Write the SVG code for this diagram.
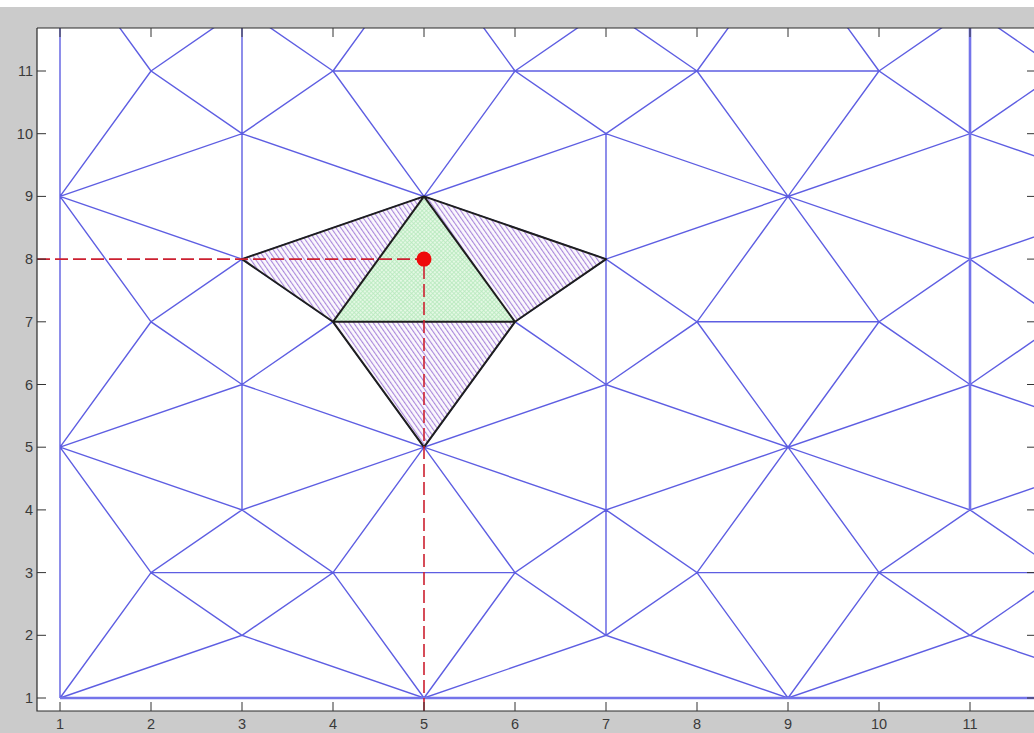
<svg xmlns="http://www.w3.org/2000/svg" width="1034" height="733" viewBox="0 0 1034 733">
  <defs>
    <style>
      .mesh { fill: none; stroke: #5e5ee2; stroke-width: 1.4; }
      .meshthick { fill: none; stroke: #7474ea; stroke-width: 2.6; }
      .edge { fill: none; stroke: #1e1e1e; stroke-width: 2; stroke-linejoin: round; }
      .tick { stroke: #333; stroke-width: 1; }
      .frame { fill: none; stroke: #2a2a2a; stroke-width: 1.2; }
      .lbl { font-family: "Liberation Sans", Arial, sans-serif; font-size: 14.5px; fill: #3a3a3a; }
      .dash { fill: none; stroke: #cc2030; stroke-width: 1.6; stroke-dasharray: 13 5; }
    </style>
    <clipPath id="plotClip">
      <rect x="37" y="28" width="1000" height="683"/>
    </clipPath>
    <pattern id="hatchPurple" patternUnits="userSpaceOnUse" width="4" height="4" patternTransform="rotate(-35)">
      <rect width="4" height="4" fill="#fbf8fd"/>
      <line x1="0.6" y1="0" x2="0.6" y2="4" stroke="#a27cd8" stroke-width="1"/>
    </pattern>
    <pattern id="hatchGreen" patternUnits="userSpaceOnUse" width="3" height="3" patternTransform="rotate(45)">
      <rect width="3" height="3" fill="#e4f8e4"/>
      <line x1="0" y1="0.5" x2="3" y2="0.5" stroke="#b8e8be" stroke-width="0.8"/>
      <line x1="0.5" y1="0" x2="0.5" y2="3" stroke="#b8e8be" stroke-width="0.8"/>
    </pattern>
  </defs>

  <!-- figure background -->
  <g id="background">
    <rect x="0" y="0" width="1034" height="733" fill="#cbcbcb"/>
    <rect x="0" y="0" width="1034" height="7" fill="#ffffff"/>
    <rect x="37" y="28" width="1000" height="683" fill="#ffffff"/>
  </g>

  <!-- triangular mesh -->
  <g id="mesh" clip-path="url(#plotClip)">
    <path class="mesh" d="
      M60,196.4 L242,133.7 L424,196.4 L606,133.7 L788,196.4 L970,133.7 L1152,196.4
      M60,196.4 L151,71 L242,133.7 L333,71 L424,196.4 L515,71 L606,133.7 L697,71 L788,196.4 L879,71 L970,133.7 L1061,71 L1152,196.4
      M151,71 L242,8.3 L333,71 M515,71 L606,8.3 L697,71 M879,71 L970,8.3 L1061,71
      M60,-54.4 L151,71 M333,71 L424,-54.4 L515,71 M697,71 L788,-54.4 L879,71 M1061,71 L1152,-54.4
      M60,196.4 L242,259.1 L424,196.4 L606,259.1 L788,196.4 L970,259.1 L1152,196.4
      M60,196.4 L151,321.8 L242,259.1 L333,321.8 L424,196.4 L515,321.8 L606,259.1 L697,321.8 L788,196.4 L879,321.8 L970,259.1 L1061,321.8 L1152,196.4
      M60,447.2 L151,321.8 L242,384.5 L333,321.8 L424,447.2 L515,321.8 L606,384.5 L697,321.8 L788,447.2 L879,321.8 L970,384.5 L1061,321.8 L1152,447.2
      M60,447.2 L242,384.5 L424,447.2 L606,384.5 L788,447.2 L970,384.5 L1152,447.2
      M60,447.2 L242,509.9 L424,447.2 L606,509.9 L788,447.2 L970,509.9 L1152,447.2
      M60,447.2 L151,572.6 L242,509.9 L333,572.6 L424,447.2 L515,572.6 L606,509.9 L697,572.6 L788,447.2 L879,572.6 L970,509.9 L1061,572.6 L1152,447.2
      M60,698 L151,572.6 L242,635.3 L333,572.6 L424,698 L515,572.6 L606,635.3 L697,572.6 L788,698 L879,572.6 L970,635.3 L1061,572.6 L1152,698
      M60,698 L242,635.3 L424,698 L606,635.3 L788,698 L970,635.3 L1152,698
      M60,698 L60,-54.4
      M242,509.9 L242,8.3
      M606,635.3 L606,133.7
      M151,572.6 L515,572.6
      M697,572.6 L1152,572.6
      M697,321.8 L879,321.8
      M333,71 L879,71
    "/>
    <path class="meshthick" d="M60,698 L1152,698 M970,509.9 L970,8.3"/>
  </g>

  <!-- highlighted triangles -->
  <g id="tri-left">
    <polygon points="242,259.1 424,196.4 333,321.8" fill="url(#hatchPurple)"/>
  </g>
  <g id="tri-right">
    <polygon points="424,196.4 606,259.1 515,321.8" fill="url(#hatchPurple)"/>
  </g>
  <g id="tri-bottom">
    <polygon points="333,321.8 515,321.8 424,447.2" fill="url(#hatchPurple)"/>
  </g>
  <g id="tri-center">
    <polygon points="424,196.4 333,321.8 515,321.8" fill="url(#hatchGreen)"/>
  </g>
  <g id="tri-edges">
    <path class="edge" d="M242,259.1 L424,196.4 L606,259.1 L515,321.8 L424,447.2 L333,321.8 Z M333,321.8 L515,321.8 M333,321.8 L424,196.4 L515,321.8"/>
  </g>

  <!-- query point with projections -->
  <g id="query-point">
    <path class="dash" d="M37,259.1 L418,259.1"/>
    <path class="dash" d="M424,266 L424,711"/>
    <circle cx="424" cy="259.1" r="7.5" fill="#ee0a0a"/>
  </g>

  <!-- axes -->
  <g id="axes">
    <path class="frame" d="M37,28 L1040,28 M37,28 L37,711 L1040,711"/>
    <path class="tick" d="
      M37,698 L46,698 M37,635.3 L46,635.3 M37,572.6 L46,572.6 M37,509.9 L46,509.9 M37,447.2 L46,447.2 M37,384.5 L46,384.5
      M37,321.8 L46,321.8 M37,259.1 L46,259.1 M37,196.4 L46,196.4 M37,133.7 L46,133.7 M37,71 L46,71
      M1027,698 L1034,698 M1027,635.3 L1034,635.3 M1027,572.6 L1034,572.6 M1027,509.9 L1034,509.9 M1027,447.2 L1034,447.2 M1027,384.5 L1034,384.5
      M1027,321.8 L1034,321.8 M1027,259.1 L1034,259.1 M1027,196.4 L1034,196.4 M1027,133.7 L1034,133.7 M1027,71 L1034,71
      M60,711 L60,702 M151,711 L151,702 M242,711 L242,702 M333,711 L333,702 M424,711 L424,702 M515,711 L515,702
      M606,711 L606,702 M697,711 L697,702 M788,711 L788,702 M879,711 L879,702 M970,711 L970,702
      M60,28 L60,37 M151,28 L151,37 M242,28 L242,37 M333,28 L333,37 M424,28 L424,37 M515,28 L515,37
      M606,28 L606,37 M697,28 L697,37 M788,28 L788,37 M879,28 L879,37 M970,28 L970,37
    "/>
  </g>

  <g id="y-labels" class="lbl" text-anchor="end">
    <text x="33" y="703">1</text>
    <text x="33" y="640.3">2</text>
    <text x="33" y="577.6">3</text>
    <text x="33" y="514.9">4</text>
    <text x="33" y="452.2">5</text>
    <text x="33" y="389.5">6</text>
    <text x="33" y="326.8">7</text>
    <text x="33" y="264.1">8</text>
    <text x="33" y="201.4">9</text>
    <text x="33" y="138.7">10</text>
    <text x="33" y="76">11</text>
  </g>

  <g id="x-labels" class="lbl" text-anchor="middle">
    <text x="60" y="729">1</text>
    <text x="151" y="729">2</text>
    <text x="242" y="729">3</text>
    <text x="333" y="729">4</text>
    <text x="424" y="729">5</text>
    <text x="515" y="729">6</text>
    <text x="606" y="729">7</text>
    <text x="697" y="729">8</text>
    <text x="788" y="729">9</text>
    <text x="879" y="729">10</text>
    <text x="970" y="729">11</text>
  </g>
</svg>
